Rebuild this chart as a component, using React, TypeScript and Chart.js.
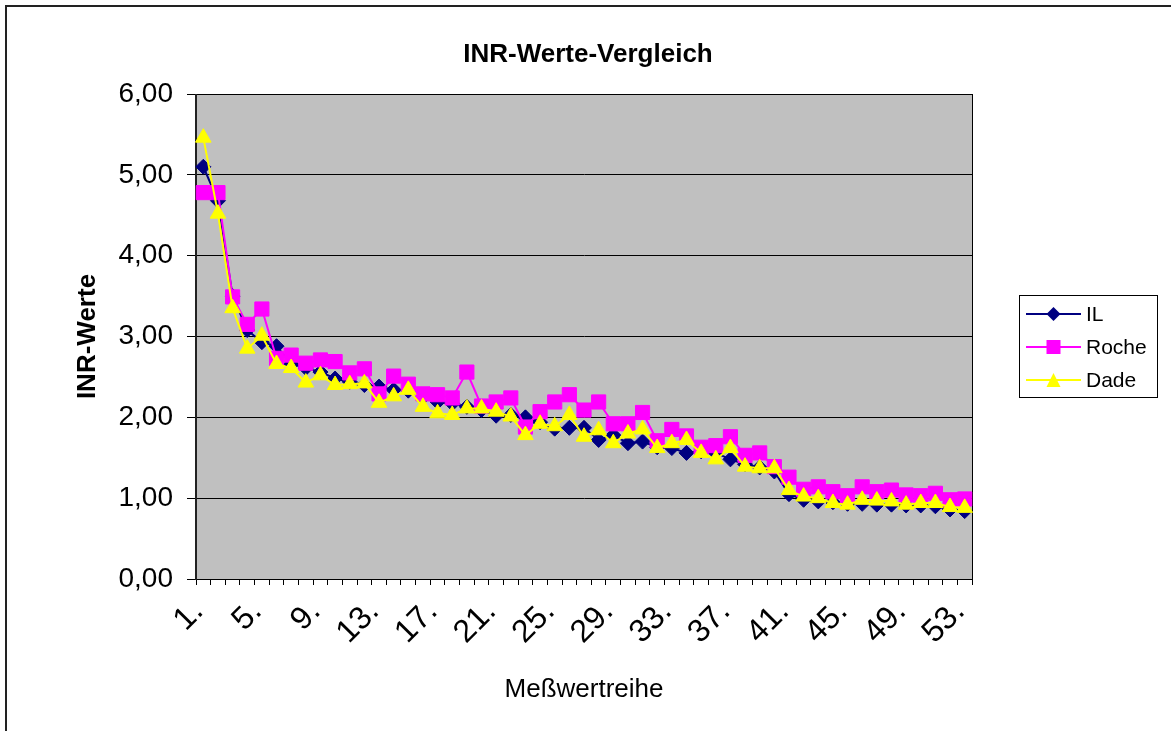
import React, { useEffect, useRef } from 'react';
import { Chart, registerables } from 'chart.js';

Chart.register(...registerables);

const FONT = '"Liberation Sans", Arial, Helvetica, sans-serif';

const categories = [
  '1.', '2.', '3.', '4.', '5.', '6.', '7.', '8.', '9.', '10.',
  '11.', '12.', '13.', '14.', '15.', '16.', '17.', '18.', '19.', '20.',
  '21.', '22.', '23.', '24.', '25.', '26.', '27.', '28.', '29.', '30.',
  '31.', '32.', '33.', '34.', '35.', '36.', '37.', '38.', '39.', '40.',
  '41.', '42.', '43.', '44.', '45.', '46.', '47.', '48.', '49.', '50.',
  '51.', '52.', '53.',
];

const ilValues = [
  5.10, 4.68, 3.50, 3.08, 2.93, 2.88, 2.66, 2.61, 2.56, 2.48,
  2.44, 2.40, 2.38, 2.34, 2.33, 2.25, 2.19, 2.17, 2.13, 2.09,
  2.02, 2.03, 2.00, 1.94, 1.86, 1.87, 1.87, 1.72, 1.78, 1.68,
  1.70, 1.63, 1.62, 1.56, 1.58, 1.56, 1.48, 1.42, 1.38, 1.33,
  1.05, 0.98, 0.96, 0.95, 0.93, 0.93, 0.92, 0.92, 0.91, 0.91,
  0.90, 0.86, 0.84,
];

const rocheValues = [
  4.78, 4.78, 3.49, 3.15, 3.34, 2.73, 2.77, 2.67, 2.71, 2.69,
  2.55, 2.60, 2.29, 2.51, 2.41, 2.29, 2.28, 2.24, 2.56, 2.14,
  2.19, 2.24, 1.88, 2.07, 2.19, 2.28, 2.09, 2.19, 1.92, 1.92,
  2.06, 1.71, 1.85, 1.77, 1.63, 1.65, 1.76, 1.53, 1.56, 1.39,
  1.26, 1.11, 1.14, 1.08, 1.03, 1.14, 1.08, 1.10, 1.04, 1.03,
  1.06, 0.98, 0.99,
];

const dadeValues = [
  5.46, 4.52, 3.35, 2.85, 3.01, 2.66, 2.61, 2.43, 2.52, 2.40,
  2.41, 2.42, 2.18, 2.26, 2.34, 2.13, 2.05, 2.03, 2.11, 2.11,
  2.07, 2.01, 1.78, 1.92, 1.89, 2.03, 1.76, 1.84, 1.68, 1.80,
  1.85, 1.62, 1.68, 1.72, 1.56, 1.48, 1.62, 1.39, 1.37, 1.37,
  1.10, 1.02, 1.00, 0.94, 0.92, 0.98, 0.97, 0.96, 0.92, 0.94,
  0.94, 0.89, 0.88,
];

const seriesNames = ['IL', 'Roche', 'Dade'];
const seriesColors = ['#000080', '#FF00FF', '#FFFF00'];
const seriesStyles = ['rectRot', 'rect', 'triangle'];

const chartTitle = 'INR-Werte-Vergleich';
const yTitle = 'INR-Werte';
const xTitle = 'Meßwertreihe';

function drawMarker(ctx: CanvasRenderingContext2D, style: string, x: number, y: number, color: string) {
  ctx.save();
  ctx.fillStyle = color;
  ctx.beginPath();
  if (style === 'rectRot') {
    const r = 7;
    ctx.moveTo(x - r, y);
    ctx.lineTo(x, y - r);
    ctx.lineTo(x + r, y);
    ctx.lineTo(x, y + r);
    ctx.closePath();
  } else if (style === 'rect') {
    const h = 7;
    ctx.rect(x - h, y - h, 2 * h, 2 * h);
  } else {
    const h = 7;
    ctx.moveTo(x, y - h);
    ctx.lineTo(x + h, y + h);
    ctx.lineTo(x - h, y + h);
    ctx.closePath();
  }
  ctx.fill();
  ctx.restore();
}

const framePlugin = {
  id: 'framePlugin',
  beforeDraw(chart: any) {
    const { ctx, chartArea: a, width, height } = chart;
    ctx.save();
    ctx.fillStyle = '#ffffff';
    ctx.fillRect(0, 0, width, height);
    ctx.strokeStyle = '#222222';
    ctx.lineWidth = 2;
    ctx.beginPath();
    ctx.moveTo(6, height);
    ctx.lineTo(6, 6);
    ctx.lineTo(width, 6);
    ctx.stroke();
    ctx.fillStyle = '#C0C0C0';
    ctx.fillRect(a.left, a.top, a.right - a.left, a.bottom - a.top);
    ctx.restore();
  },
  beforeDatasetsDraw(chart: any) {
    const { ctx, chartArea: a } = chart;
    ctx.save();
    ctx.strokeStyle = '#000000';
    ctx.lineWidth = 1;
    ctx.strokeRect(Math.round(a.left) + 0.5, Math.round(a.top) + 0.5, Math.round(a.right - a.left), Math.round(a.bottom - a.top));
    ctx.strokeStyle = '#222222';
    ctx.lineWidth = 2;
    ctx.beginPath();
    ctx.moveTo(Math.round(a.left), a.top);
    ctx.lineTo(Math.round(a.left), a.bottom + 1);
    ctx.stroke();
    ctx.restore();
  },
};

const legendPlugin = {
  id: 'boxLegend',
  afterDraw(chart: any) {
    const { ctx } = chart;
    const box = { x: 1019, y: 295, w: 138, h: 102 };
    ctx.save();
    ctx.fillStyle = '#ffffff';
    ctx.fillRect(box.x, box.y, box.w, box.h);
    ctx.strokeStyle = '#000000';
    ctx.lineWidth = 1;
    ctx.strokeRect(box.x + 0.5, box.y + 0.5, box.w, box.h);
    const rowYs = [314, 347, 380];
    chart.data.datasets.forEach((ds: any, i: number) => {
      const y = rowYs[i];
      ctx.strokeStyle = ds.borderColor;
      ctx.lineWidth = 2;
      ctx.beginPath();
      ctx.moveTo(1026, y);
      ctx.lineTo(1081, y);
      ctx.stroke();
      drawMarker(ctx, ds.pointStyle, 1053.5, y, ds.backgroundColor);
      ctx.fillStyle = '#000000';
      ctx.font = `21px ${FONT}`;
      ctx.textAlign = 'left';
      ctx.textBaseline = 'middle';
      ctx.fillText(ds.label, 1086, y + 1);
    });
    ctx.restore();
  },
};

export default function App() {
  const ref = useRef<HTMLCanvasElement | null>(null);

  useEffect(() => {
    document.body.style.margin = '0';
    if (!ref.current) return;
    Chart.defaults.font.family = FONT;
    const valueSets = [ilValues, rocheValues, dadeValues];
    const radii = [7.5, 10, 9];
    const chart = new Chart(ref.current, {
      type: 'line',
      data: {
        labels: categories,
        datasets: valueSets.map((vals, i) => ({
          label: seriesNames[i],
          data: vals,
          borderColor: seriesColors[i],
          backgroundColor: seriesColors[i],
          pointBackgroundColor: seriesColors[i],
          pointBorderColor: seriesColors[i],
          pointStyle: seriesStyles[i] as any,
          pointRadius: radii[i],
          pointBorderWidth: 1,
          borderWidth: 2,
          tension: 0,
          fill: false,
          order: 3 - i,
          yAxisID: 'y',
        })),
      },
      options: {
        responsive: false,
        animation: false,
        events: [],
        layout: { padding: { left: 5, right: 0, top: 0, bottom: 23.4 } },
        plugins: {
          legend: { display: false },
          tooltip: { enabled: false },
          title: {
            display: true,
            text: chartTitle,
            color: '#000000',
            font: { size: 26, weight: 'bold', family: FONT },
            padding: { top: 39.4, bottom: 23.4 },
          },
        },
        scales: {
          x: {
            type: 'category',
            offset: true,
            grid: {
              display: true,
              drawOnChartArea: false,
              drawTicks: true,
              tickLength: 6,
              offset: true,
              color: '#000000',
            },
            border: { display: true, color: '#000000', width: 1 },
            ticks: {
              autoSkip: false,
              minRotation: 45,
              maxRotation: 45,
              color: '#000000',
              padding: 8,
              labelOffset: -5,
              font: { size: 32, family: FONT },
              callback: (_v: any, index: number) => (index % 4 === 0 ? categories[index] : ''),
            },
            title: {
              display: true,
              text: xTitle,
              color: '#000000',
              font: { size: 26, family: FONT },
              padding: { top: 4, bottom: 2 },
            },
            afterFit: (s: any) => {
              s.height = 128.6;
            },
          },
          y: {
            type: 'linear',
            position: 'left',
            min: 0,
            max: 6,
            grid: {
              color: '#000000',
              lineWidth: 1,
              drawTicks: true,
              tickLength: 9,
            },
            border: { display: true, color: '#000000', width: 1 },
            ticks: {
              stepSize: 1,
              color: '#000000',
              padding: 14,
              font: { size: 28, family: FONT },
              callback: (v: any) => Number(v).toFixed(2).replace('.', ','),
            },
            title: {
              display: true,
              text: yTitle,
              color: '#000000',
              font: { size: 26, weight: 'bold', family: FONT },
              padding: { top: 67.4, bottom: 0 },
            },
            afterFit: (s: any) => {
              s.width = 191;
            },
          },
          yR: {
            type: 'linear',
            position: 'right',
            display: true,
            grid: { display: false, drawTicks: false },
            border: { display: false },
            ticks: { display: false },
            afterFit: (s: any) => {
              s.width = 199;
            },
          },
        },
      },
      plugins: [framePlugin, legendPlugin],
    } as any);
    return () => chart.destroy();
  }, []);

  return (
    <div style={{ position: 'absolute', left: 0, top: 0, width: 1171, height: 731 }}>
      <canvas ref={ref} width={1171} height={731} style={{ display: 'block' }} />
    </div>
  );
}
